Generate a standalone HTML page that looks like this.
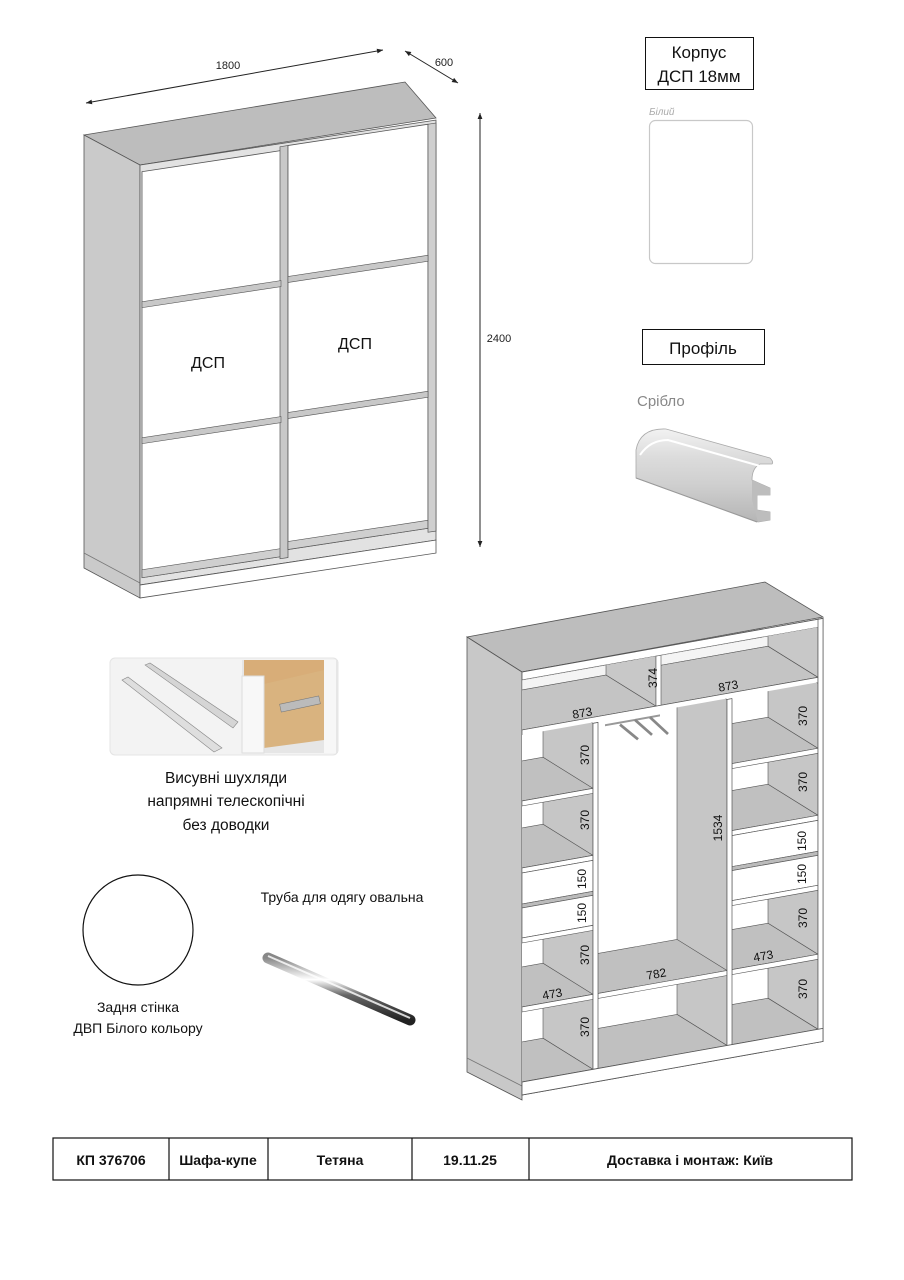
<!DOCTYPE html>
<html><head><meta charset="utf-8"><style>
html,body{margin:0;padding:0;background:#fff}
svg{display:block}
text{font-family:"Liberation Sans","DejaVu Sans",sans-serif}
</style></head><body>
<svg width="904" height="1280" viewBox="0 0 904 1280" xmlns="http://www.w3.org/2000/svg">
<defs>
<marker id="ar" viewBox="0 0 10 10" refX="10" refY="5" markerWidth="8" markerHeight="6" orient="auto-start-reverse"><path d="M0,1 L10,5 L0,9 z" fill="#222"/></marker>
<linearGradient id="prof" x1="0" y1="0" x2="0" y2="1"><stop offset="0" stop-color="#f2f2f2"/><stop offset="0.3" stop-color="#dcdcdc"/><stop offset="0.6" stop-color="#cfcfcf"/><stop offset="1" stop-color="#b5b5b5"/></linearGradient>
<linearGradient id="rod" x1="0" y1="0" x2="0" y2="1"><stop offset="0" stop-color="#888"/><stop offset="0.35" stop-color="#fff"/><stop offset="0.6" stop-color="#666"/><stop offset="1" stop-color="#222"/></linearGradient>
<clipPath id="cTop"><rect x="522" y="680" width="296" height="50"/></clipPath>
<clipPath id="cL"><rect x="522" y="735" width="71" height="347"/></clipPath>
<clipPath id="cM"><rect x="598" y="735" width="129" height="347"/></clipPath>
<clipPath id="cR"><rect x="732" y="735" width="86" height="347"/></clipPath>
</defs>
<rect width="904" height="1280" fill="#fff"/>

<!-- ===== top wardrobe ===== -->
<line x1="86" y1="103" x2="383" y2="50" stroke="#222" stroke-width="1" marker-start="url(#ar)" marker-end="url(#ar)"/>
<text x="228" y="69" font-size="11" text-anchor="middle" fill="#222">1800</text>
<line x1="405" y1="51" x2="458" y2="83" stroke="#222" stroke-width="1" marker-start="url(#ar)" marker-end="url(#ar)"/>
<text x="444" y="66" font-size="11" text-anchor="middle" fill="#222">600</text>
<line x1="480" y1="113" x2="480" y2="547" stroke="#222" stroke-width="1" marker-start="url(#ar)" marker-end="url(#ar)"/>
<text x="499" y="342" font-size="11" text-anchor="middle" fill="#222">2400</text>

<polygon points="84,135 405,82 436,118 140,165" fill="#bdbdbd" stroke="#555" stroke-width="0.8"/>
<polygon points="84,135 140,165 140,598 84,568" fill="#cacaca" stroke="#555" stroke-width="0.8"/>
<line x1="84" y1="553" x2="140" y2="583" stroke="#777" stroke-width="0.8"/>
<g transform="matrix(1,-0.152,0,1,0,21.3)">
  <rect x="140" y="165" width="296" height="420" fill="#e2e2e2" stroke="#555" stroke-width="0.8"/>
  <rect x="140" y="585" width="296" height="13" fill="#fff" stroke="#555" stroke-width="0.8"/>
  <rect x="142" y="172" width="139" height="406" fill="#fff" stroke="#555" stroke-width="0.8"/>
  <rect x="142" y="570" width="139" height="8" fill="#cfcfcf" stroke="#555" stroke-width="0.6"/>
  <rect x="280" y="168" width="8" height="412" fill="#c8c8c8" stroke="#555" stroke-width="0.7"/>
  <rect x="288" y="168" width="140" height="404" fill="#fff" stroke="#555" stroke-width="0.8"/>
  <rect x="288" y="564" width="140" height="8" fill="#cfcfcf" stroke="#555" stroke-width="0.6"/>
  <rect x="428" y="168" width="8" height="408" fill="#cfcfcf" stroke="#555" stroke-width="0.7"/>
  <rect x="142" y="302" width="139" height="6" fill="#c8c8c8" stroke="#555" stroke-width="0.6"/>
  <rect x="142" y="438" width="139" height="6" fill="#c8c8c8" stroke="#555" stroke-width="0.6"/>
  <rect x="288" y="299" width="140" height="6" fill="#c8c8c8" stroke="#555" stroke-width="0.6"/>
  <rect x="288" y="435" width="140" height="6" fill="#c8c8c8" stroke="#555" stroke-width="0.6"/>
</g>
<text x="208" y="368" font-size="16" text-anchor="middle" fill="#111">ДСП</text>
<text x="355" y="349" font-size="16" text-anchor="middle" fill="#111">ДСП</text>

<!-- ===== right panels ===== -->
<rect x="645.5" y="37.5" width="108" height="52" fill="#fff" stroke="#111" stroke-width="1"/>
<text x="699" y="58" font-size="17" text-anchor="middle" fill="#111">Корпус</text>
<text x="699" y="82" font-size="17" text-anchor="middle" fill="#111">ДСП 18мм</text>
<text x="649" y="115" font-size="10" fill="#aaa" font-style="italic">Білий</text>
<rect x="649.5" y="120.5" width="103" height="143" rx="6" fill="#fff" stroke="#c8c8c8" stroke-width="1.2"/>
<rect x="642.5" y="329.5" width="122" height="35" fill="#fff" stroke="#111" stroke-width="1"/>
<text x="703" y="354" font-size="17" text-anchor="middle" fill="#111">Профіль</text>
<text x="637" y="406" font-size="15" fill="#888">Срібло</text>
<path d="M636,478 L636,450 Q640,428 666,429 L770,458 Q774,462 772,464 L760,464 Q752,468 752,480 L770,488 L770,495 L757,495 L757,510 L770,512 L770,520 L758,522 Z" fill="url(#prof)" stroke="#aaa" stroke-width="0.8"/>
<path d="M752,480 L770,488 L770,495 L757,495 L757,510 L770,512 L770,520 L758,522 L752,500 Z" fill="#bdbdbd"/>
<path d="M636,478 L757,522" stroke="#999" stroke-width="1"/>
<path d="M640,455 Q650,440 668,440 L760,466" fill="none" stroke="#fff" stroke-width="2"/>

<!-- ===== drawer photo ===== -->
<rect x="110" y="658" width="228" height="97" rx="5" fill="#f3f3f3" stroke="#e4e4e4"/>
<rect x="242" y="660" width="96" height="93" fill="#e6e6e6"/>
<rect x="244" y="660" width="80" height="24" fill="#d8ad78"/>
<polygon points="264,684 324,670 324,740 264,748" fill="#d9b37f"/>
<rect x="242" y="676" width="22" height="77" fill="#f8f8f8" stroke="#ddd"/>
<rect x="280" y="700" width="40" height="8" fill="#bbb" stroke="#777" stroke-width="0.5" transform="rotate(-12 300 704)"/>
<rect x="324" y="660" width="12" height="93" fill="#f7f7f7"/>
<polygon points="145,665 150,663 238,722 233,728" fill="#d5d5d5" stroke="#888" stroke-width="0.6"/>
<polygon points="122,680 128,677 222,748 214,752" fill="#dedede" stroke="#888" stroke-width="0.6"/>
<text x="226" y="783" font-size="15.5" text-anchor="middle" fill="#111">Висувні шухляди</text>
<text x="226" y="806" font-size="15.5" text-anchor="middle" fill="#111">напрямні телескопічні</text>
<text x="226" y="830" font-size="15.5" text-anchor="middle" fill="#111">без доводки</text>

<!-- circle / rod -->
<circle cx="138" cy="930" r="55" fill="#fff" stroke="#111" stroke-width="1.2"/>
<text x="138" y="1012" font-size="14" text-anchor="middle" fill="#111">Задня стінка</text>
<text x="138" y="1033" font-size="14" text-anchor="middle" fill="#111">ДВП Білого кольору</text>
<text x="342" y="902" font-size="14" text-anchor="middle" fill="#111">Труба для одягу овальна</text>
<line x1="268" y1="958" x2="410" y2="1020" stroke="url(#rod)" stroke-width="11" stroke-linecap="round"/>
<line x1="268" y1="956" x2="410" y2="1018" stroke="#fff" stroke-width="2" opacity="0.8"/>

<!-- ===== inner wardrobe ===== -->
<polygon points="467,637 765,582 823,617 522,672" fill="#bdbdbd" stroke="#555" stroke-width="0.8"/>
<polygon points="467,637 522,672 522,1100 467,1072" fill="#c8c8c8" stroke="#555" stroke-width="0.8"/>
<line x1="467" y1="1058" x2="522" y2="1086" stroke="#777" stroke-width="0.8"/>
<g transform="matrix(1,-0.178,0,1,0,92.9)">
  <rect x="522" y="672" width="301" height="423" fill="#fff" stroke="#555" stroke-width="0.8"/>
  <rect x="522" y="672" width="301" height="8" fill="#fff" stroke="#555" stroke-width="0.8"/>
  <g clip-path="url(#cTop)">
    <rect x="522" y="680" width="296" height="50" fill="#fff"/>
    <rect x="522" y="680" width="296" height="10" fill="#f4f4f4" stroke="#777" stroke-width="0.5"/>
    <polygon points="522,730 818,730 768,690 472,690" fill="#c4c4c4" stroke="#555" stroke-width="0.6"/>
    <polygon points="818,680 818,730 768,690 768,640" fill="#c8c8c8" stroke="#555" stroke-width="0.6"/>
    <polygon points="656,680 656,730 606,690 606,640" fill="#c8c8c8" stroke="#555" stroke-width="0.6"/>
    <rect x="656" y="680" width="5" height="50" fill="#fff" stroke="#555" stroke-width="0.6"/>
  </g>
  <rect x="522" y="730" width="296" height="6" fill="#fff" stroke="#555" stroke-width="0.7"/>
  <g clip-path="url(#cL)">
    <rect x="522" y="735" width="71" height="347" fill="#fff"/>
    <polygon points="593,736 593,1082 543,1042 543,696" fill="#c6c6c6" stroke="#555" stroke-width="0.6"/>
    <polygon points="522,1082 593,1082 543,1042 472,1042" fill="#c0c0c0" stroke="#555" stroke-width="0.6"/>
    <polygon points="522,1007 593,1007 543,967 472,967" fill="#c0c0c0" stroke="#555" stroke-width="0.6"/>
    <polygon points="522,940 593,940 543,900 472,900" fill="#c0c0c0" stroke="#555" stroke-width="0.6"/>
    <polygon points="522,868 593,868 543,828 472,828" fill="#c0c0c0" stroke="#555" stroke-width="0.6"/>
    <polygon points="522,801 593,801 543,761 472,761" fill="#c0c0c0" stroke="#555" stroke-width="0.6"/>
    <rect x="522" y="801" width="71" height="5" fill="#fff" stroke="#555" stroke-width="0.6"/>
    <rect x="522" y="868" width="71" height="5" fill="#fff" stroke="#555" stroke-width="0.6"/>
    <rect x="522" y="873" width="71" height="31" fill="#fff" stroke="#555" stroke-width="0.7"/>
    <rect x="522" y="904" width="71" height="4" fill="#bbb" stroke="#555" stroke-width="0.5"/>
    <rect x="522" y="908" width="71" height="30" fill="#fff" stroke="#555" stroke-width="0.7"/>
    <rect x="522" y="938" width="71" height="5" fill="#fff" stroke="#555" stroke-width="0.6"/>
    <rect x="522" y="1007" width="71" height="5" fill="#fff" stroke="#555" stroke-width="0.6"/>
  </g>
  <g clip-path="url(#cM)">
    <rect x="598" y="735" width="129" height="347" fill="#fff"/>
    <polygon points="727,736 727,1082 677,1042 677,696" fill="#c6c6c6" stroke="#555" stroke-width="0.6"/>
    <polygon points="598,1082 727,1082 677,1042 548,1042" fill="#c0c0c0" stroke="#555" stroke-width="0.6"/>
    <polygon points="598,1007 727,1007 677,967 548,967" fill="#c0c0c0" stroke="#555" stroke-width="0.6"/>
    <rect x="598" y="1007" width="129" height="5" fill="#fff" stroke="#555" stroke-width="0.6"/>
  </g>
  <g clip-path="url(#cR)">
    <rect x="732" y="735" width="86" height="347" fill="#fff"/>
    <polygon points="818,736 818,1082 768,1042 768,696" fill="#c6c6c6" stroke="#555" stroke-width="0.6"/>
    <polygon points="732,1082 818,1082 768,1042 682,1042" fill="#c0c0c0" stroke="#555" stroke-width="0.6"/>
    <polygon points="732,1007 818,1007 768,967 682,967" fill="#c0c0c0" stroke="#555" stroke-width="0.6"/>
    <polygon points="732,940 818,940 768,900 682,900" fill="#c0c0c0" stroke="#555" stroke-width="0.6"/>
    <polygon points="732,868 818,868 768,828 682,828" fill="#c0c0c0" stroke="#555" stroke-width="0.6"/>
    <polygon points="732,801 818,801 768,761 682,761" fill="#c0c0c0" stroke="#555" stroke-width="0.6"/>
    <rect x="732" y="801" width="86" height="5" fill="#fff" stroke="#555" stroke-width="0.6"/>
    <rect x="732" y="868" width="86" height="5" fill="#fff" stroke="#555" stroke-width="0.6"/>
    <rect x="732" y="873" width="86" height="31" fill="#fff" stroke="#555" stroke-width="0.7"/>
    <rect x="732" y="904" width="86" height="4" fill="#bbb" stroke="#555" stroke-width="0.5"/>
    <rect x="732" y="908" width="86" height="30" fill="#fff" stroke="#555" stroke-width="0.7"/>
    <rect x="732" y="938" width="86" height="5" fill="#fff" stroke="#555" stroke-width="0.6"/>
    <rect x="732" y="1007" width="86" height="5" fill="#fff" stroke="#555" stroke-width="0.6"/>
  </g>
  <rect x="593" y="736" width="5" height="346" fill="#fff" stroke="#555" stroke-width="0.7"/>
  <rect x="727" y="736" width="5" height="346" fill="#fff" stroke="#555" stroke-width="0.7"/>
  <rect x="818" y="672" width="5" height="423" fill="#fff" stroke="#555" stroke-width="0.7"/>
  <rect x="522" y="1082" width="301" height="13" fill="#fff" stroke="#555" stroke-width="0.8"/>
  <line x1="605" y1="740" x2="660" y2="740" stroke="#999" stroke-width="2"/>
  <path d="M620,742 L638,760 M635,740 L652,758 M650,740 L668,760" stroke="#888" stroke-width="2.5" fill="none"/>
</g>

<g font-size="12" fill="#111" text-anchor="middle">
<text transform="translate(657,678) rotate(-90)">374</text>
<text transform="translate(583,717) rotate(-10)">873</text>
<text transform="translate(729,690) rotate(-10)">873</text>
<text transform="translate(589,755) rotate(-90)">370</text>
<text transform="translate(589,820) rotate(-90)">370</text>
<text transform="translate(586,879) rotate(-90)">150</text>
<text transform="translate(586,913) rotate(-90)">150</text>
<text transform="translate(589,955) rotate(-90)">370</text>
<text transform="translate(589,1027) rotate(-90)">370</text>
<text transform="translate(553,998) rotate(-10)">473</text>
<text transform="translate(722,828) rotate(-90)">1534</text>
<text transform="translate(657,978) rotate(-10)">782</text>
<text transform="translate(807,716) rotate(-90)">370</text>
<text transform="translate(807,782) rotate(-90)">370</text>
<text transform="translate(806,841) rotate(-90)">150</text>
<text transform="translate(806,874) rotate(-90)">150</text>
<text transform="translate(807,918) rotate(-90)">370</text>
<text transform="translate(764,960) rotate(-10)">473</text>
<text transform="translate(807,989) rotate(-90)">370</text>
</g>

<g stroke="#111" stroke-width="1.2" fill="none">
<rect x="53" y="1138" width="799" height="42"/>
<line x1="169" y1="1138" x2="169" y2="1180"/>
<line x1="268" y1="1138" x2="268" y2="1180"/>
<line x1="412" y1="1138" x2="412" y2="1180"/>
<line x1="529" y1="1138" x2="529" y2="1180"/>
</g>
<g font-size="14" font-weight="bold" text-anchor="middle" fill="#111">
<text x="111" y="1165">КП 376706</text>
<text x="218" y="1165">Шафа-купе</text>
<text x="340" y="1165">Тетяна</text>
<text x="470" y="1165">19.11.25</text>
<text x="690" y="1165">Доставка і монтаж: Київ</text>
</g>
</svg>
</body></html>
